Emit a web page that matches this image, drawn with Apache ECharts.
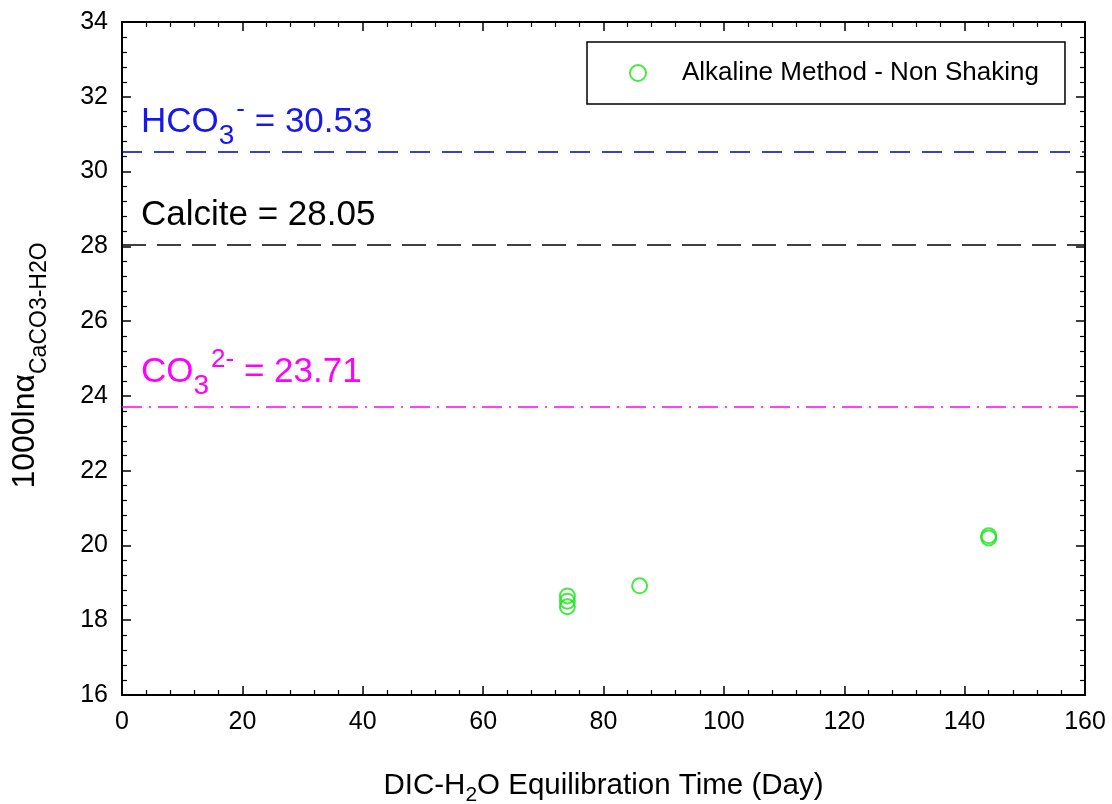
<!DOCTYPE html>
<html>
<head>
<meta charset="utf-8">
<script src="https://cdn.jsdelivr.net/npm/echarts@6/dist/echarts.min.js"></script>
<style>
  html, body { margin: 0; padding: 0; background: #ffffff; }
  #chart { width: 1112px; height: 804px; }
</style>
</head>
<body>
<div id="chart"></div>
<script>
// Measured isotope fractionation vs. equilibration time
const seriesName = 'Alkaline Method - Non Shaking';
const days = [74, 74, 74, 86, 144, 144];
const fractionation = [18.65, 18.51, 18.36, 18.92, 20.20, 20.26];

// Reference equilibrium values drawn as horizontal lines
const refKeys = ['hco3', 'calcite', 'co3'];
const refValues = [30.53, 28.05, 23.71];

// Axis ranges
const xRange = [0, 160];
const xStep = 20;
const yRange = [16, 34];
const yStep = 2;

const FONT = '"Liberation Sans", Arial, Helvetica, sans-serif';
const GREEN = '#14e614';

const refStyles = {
  hco3:    { color: '#0000b0', text: '#1717ee', dash: [20, 12], lift: 1 },
  calcite: { color: '#000000', text: '#000000', dash: [24, 11], lift: 12 },
  co3:     { color: '#ff00ff', text: '#ff00ff', dash: [20, 7, 2, 7], lift: 6 }
};

function refLabel(key, v) {
  const val = v.toFixed(2);
  if (key === 'hco3') return '{b|HCO}{sub|3}{sup|-}{b| = ' + val + '}';
  if (key === 'co3') return '{b|CO}{sub|3}{sup|2-}{b| = ' + val + '}';
  return '{b|Calcite = ' + val + '}';
}

const markData = refKeys.map((k, i) => {
  const s = refStyles[k];
  return {
    yAxis: refValues[i],
    lineStyle: { color: s.color, type: s.dash, width: 1.6 },
    label: {
      show: true,
      position: 'insideStartTop',
      distance: [19, s.lift],
      formatter: refLabel(k, refValues[i]),
      rich: {
        b:   { fontSize: 35, color: s.text, fontFamily: FONT },
        sub: { fontSize: 28, color: s.text, fontFamily: FONT, padding: [28, 0, 0, 0] },
        sup: { fontSize: 26, color: s.text, fontFamily: FONT, padding: [0, 0, 26, 2] }
      }
    }
  };
});

const axisCommon = {
  type: 'value',
  axisLine: { show: true, onZero: false, lineStyle: { color: '#000', width: 2 } },
  axisTick: { show: true, inside: true, length: 9, lineStyle: { color: '#000', width: 1.5 } },
  minorTick: { show: true, splitNumber: 5, length: 5, lineStyle: { color: '#000', width: 1.2 } },
  splitLine: { show: false },
  minorSplitLine: { show: false }
};

const chart = echarts.init(document.getElementById('chart'), null, { renderer: 'canvas' });

chart.setOption({
  animation: false,
  backgroundColor: '#ffffff',
  textStyle: { fontFamily: FONT },
  grid: { left: 122, right: 27, top: 22, bottom: 109, containLabel: false, outerBoundsMode: 'none' },
  legend: {
    left: 587,
    top: 42,
    orient: 'horizontal',
    padding: [18, 26, 18, 42],
    borderColor: '#000',
    borderWidth: 1.5,
    backgroundColor: '#fff',
    itemWidth: 16,
    itemHeight: 16,
    textStyle: { fontSize: 26, color: '#000', fontFamily: FONT, padding: [0, 0, 0, 31] },
    data: [{ name: seriesName, icon: 'circle',
             itemStyle: { color: 'transparent', borderColor: GREEN, borderWidth: 2 } }]
  },
  xAxis: [
    Object.assign({}, axisCommon, {
      position: 'bottom',
      min: xRange[0], max: xRange[1], interval: xStep,
      axisLabel: { fontSize: 25, color: '#000', margin: 15, fontFamily: FONT },
      name: '{t|DIC-H}{s|2}{t|O Equilibration Time (Day)}',
      nameLocation: 'middle',
      nameGap: 70,
      nameTextStyle: {
        rich: {
          t: { fontSize: 29.5, color: '#000', fontFamily: FONT },
          s: { fontSize: 21, color: '#000', fontFamily: FONT, padding: [20, 0, 0, 0] }
        }
      }
    }),
    Object.assign({}, axisCommon, {
      position: 'top',
      min: xRange[0], max: xRange[1], interval: xStep,
      axisLabel: { show: false }
    })
  ],
  yAxis: [
    Object.assign({}, axisCommon, {
      position: 'left',
      min: yRange[0], max: yRange[1], interval: yStep,
      axisLabel: { fontSize: 25, color: '#000', margin: 14, fontFamily: FONT },
      name: '{t|1000ln\u03b1}{s|CaCO3-H2O}',
      nameLocation: 'middle',
      nameRotate: 90,
      nameGap: 71,
      nameTextStyle: {
        padding: [0, 14, 0, 0],
        rich: {
          t: { fontSize: 32, color: '#000', fontFamily: FONT },
          s: { fontSize: 23, color: '#000', fontFamily: FONT, padding: [28, 0, 0, 0] }
        }
      }
    }),
    Object.assign({}, axisCommon, {
      position: 'right',
      min: yRange[0], max: yRange[1], interval: yStep,
      axisLabel: { show: false }
    })
  ],
  series: [{
    name: seriesName,
    type: 'scatter',
    xAxisIndex: 0,
    yAxisIndex: 0,
    symbol: 'circle',
    symbolSize: 15,
    itemStyle: { color: 'transparent', borderColor: GREEN, borderWidth: 2 },
    data: days.map((d, i) => [d, fractionation[i]]),
    markLine: {
      silent: true,
      symbol: ['none', 'none'],
      data: markData
    }
  }]
});
</script>
</body>
</html>
